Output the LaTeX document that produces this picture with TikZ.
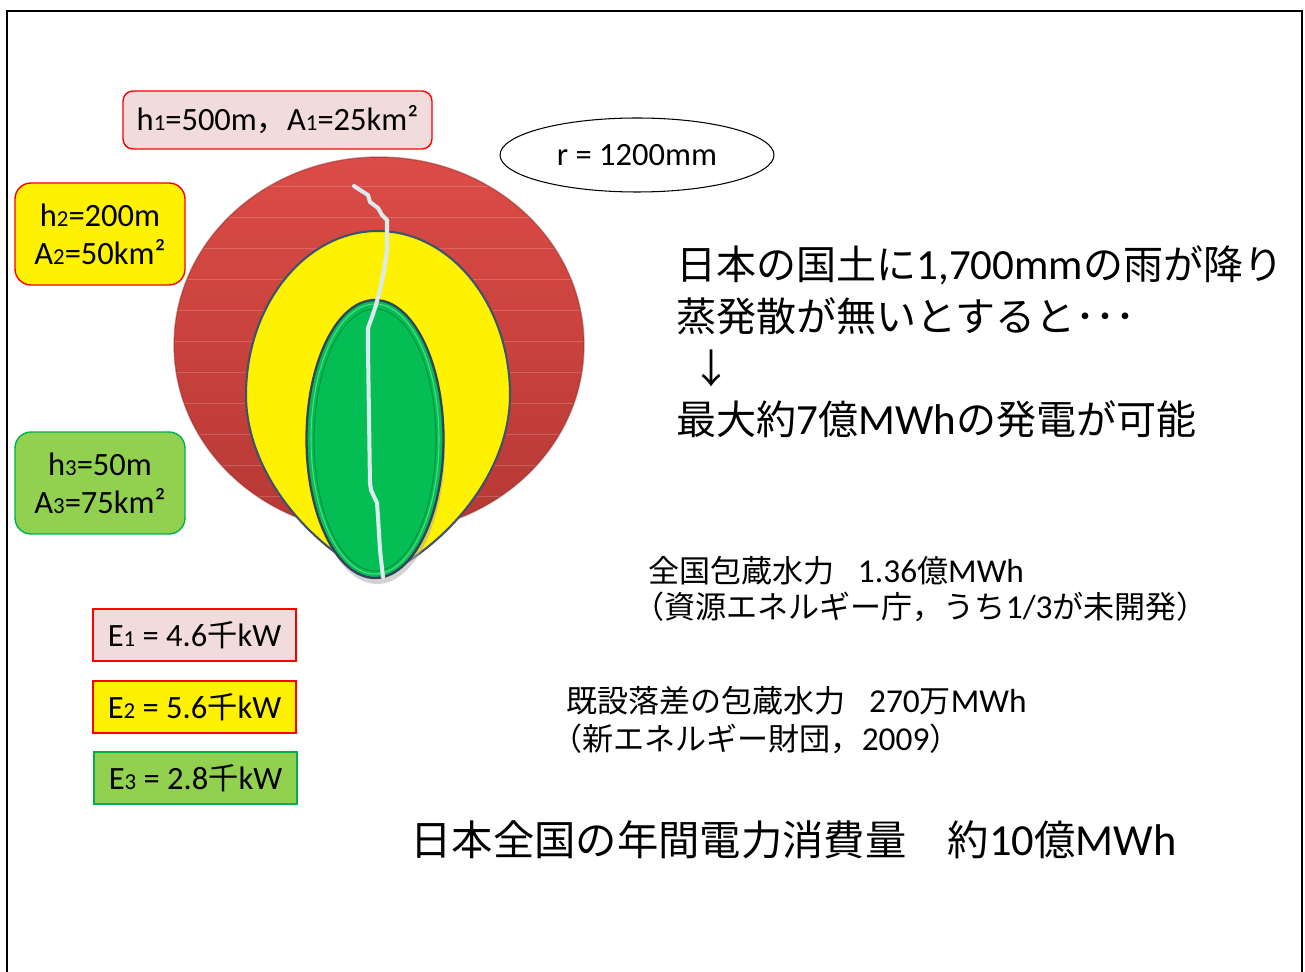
\documentclass[tikz,border=0pt]{standalone}
\usepackage{fontspec}
\setmainfont{Carlito}
\newfontfamily\jp[Scale=0.93]{Noto Sans CJK JP}
\usetikzlibrary{shapes.geometric}
\definecolor{boxpink}{RGB}{242,220,219}
\definecolor{boxgreen}{RGB}{146,208,80}
\definecolor{linegreen}{RGB}{0,176,80}
\definecolor{disctop}{RGB}{220,76,70}
\definecolor{discbot}{RGB}{182,56,52}
\definecolor{rimblue}{RGB}{62,82,112}
\definecolor{coregreen}{RGB}{4,190,84}
\definecolor{river}{RGB}{218,234,240}
\newcommand\ix[1]{{\fontsize{13}{13}\selectfont #1}}

\begin{document}
\begin{tikzpicture}[x=0.02cm,y=-0.02cm,
    tag/.style={draw=red,line width=0.8pt,align=center,inner sep=0pt,font=\fontsize{18.5}{21.5}\selectfont},
    note/.style={anchor=west,align=left,inner sep=0pt}]
  \useasboundingbox (0,0) rectangle (1305,972);
  \draw[line width=1.1pt] (7,990) -- (7,11) -- (1302,11) -- (1302,990);

  % outer disc with faint bands
  \shade[top color=disctop,bottom color=discbot] (379,345) ellipse[x radius=4.1cm,y radius=3.76cm];
  \begin{scope}
    \clip (379,345) ellipse[x radius=4.1cm,y radius=3.76cm];
    \foreach \yy in {186,217,...,500}
      \draw[white,opacity=0.18,line width=0.4pt] (170,\yy) -- (590,\yy);
  \end{scope}
  \draw[discbot!80!black,opacity=0.5,line width=0.8pt] (379,345) ellipse[x radius=4.1cm,y radius=3.76cm];

  % middle zone
  \draw[fill=yellow,draw=rimblue,line width=1.2pt] (378,231) .. controls (451,231) and (510,305) .. (510,395)
    .. controls (510,470) and (450,545) .. (378,578) .. controls (306,545) and (246,470) .. (246,395)
    .. controls (246,305) and (305,231) .. cycle;

  % inner zone
  \fill[gray!70,opacity=0.5] (377,446) ellipse[x radius=1.36cm,y radius=2.76cm];
  \draw[fill=coregreen,draw=rimblue!80!black,line width=1.3pt] (375,439) ellipse[x radius=1.37cm,y radius=2.78cm];
  \draw[color={rgb,255:red,80;green,220;blue,130},line width=0.6pt] (375,439) ellipse[x radius=1.28cm,y radius=2.7cm];
  \draw[color={rgb,255:red,0;green,150;blue,65},line width=0.6pt] (375,440) ellipse[x radius=1.22cm,y radius=2.62cm];

  % river
  \draw[river,line width=2.3pt,line join=round,line cap=round] (354,186) -- (360,190) -- (368,195) -- (370,202)
    -- (378,208) -- (382,215) -- (387,220) -- (387,230) -- (387,250) -- (384,270) -- (380,290) -- (376,305)
    -- (372,317) -- (368,328) -- (368,350) -- (369,417) -- (370,483) -- (371,490) -- (377,503) -- (378,517)
    -- (380,550) -- (383,577);

  \node[draw,ellipse,minimum width=5.48cm,minimum height=1.48cm,inner sep=0pt,line width=0.6pt,
    font=\fontsize{18.5}{21.5}\selectfont] (radius) at (637,155) {r = 1200mm};

  \node[tag,fill=boxpink,rounded corners=0.2cm,minimum width=6.18cm,minimum height=1.16cm] (h1) at (277.5,120)
    {h\ix{1}=500m{\jp ，}A\ix{1}=25km²};
  \node[tag,fill=yellow,rounded corners=0.32cm,minimum width=3.4cm,minimum height=2.04cm] (h2) at (100,234)
    {h\ix{2}=200m\\A\ix{2}=50km²};
  \node[tag,fill=boxgreen,draw=linegreen,rounded corners=0.32cm,minimum width=3.4cm,minimum height=2.04cm] (h3) at (100,483)
    {h\ix{3}=50m\\A\ix{3}=75km²};

  \node[tag,fill=boxpink,minimum width=4.06cm,minimum height=1.04cm] (e1) at (194.5,635) {E\ix{1} = 4.6{\jp 千}kW};
  \node[tag,fill=yellow,minimum width=4.06cm,minimum height=1.04cm] (e2) at (194.5,707) {E\ix{2} = 5.6{\jp 千}kW};
  \node[tag,fill=boxgreen,draw=linegreen,minimum width=4.06cm,minimum height=1.04cm] (e3) at (195.5,778) {E\ix{3} = 2.8{\jp 千}kW};

  \node[note,font=\fontsize{24.5}{29.5}\selectfont] (rain) at (676,342)
    {{\jp 日本の国土に}1,700mm{\jp の雨が降り}\\{\jp 蒸発散が無いとすると･･･}\\\hspace*{0.35em}{\jp ↓}\\{\jp 最大約}7{\jp 億}MWh{\jp の発電が可能}};
  \node[note,font=\fontsize{19}{21}\selectfont] (stock) at (648,589)
    {{\jp 全国包蔵水力}\hspace{0.7em}1.36{\jp 億}MWh\\\hspace*{-0.45em}{\jp （資源エネルギー庁，うち}1/3{\jp が未開発）}};
  \node[note,font=\fontsize{19}{21.5}\selectfont] (built) at (566,720)
    {{\jp 既設落差の包蔵水力}\hspace{0.7em}270{\jp 万}MWh\\\hspace*{-0.45em}{\jp （新エネルギー財団，}2009{\jp ）}};
  \node[note,font=\fontsize{25.3}{29.5}\selectfont] (usage) at (410,840)
    {{\jp 日本全国の年間電力消費量　約}10{\jp 億}MWh};
\end{tikzpicture}
\end{document}
